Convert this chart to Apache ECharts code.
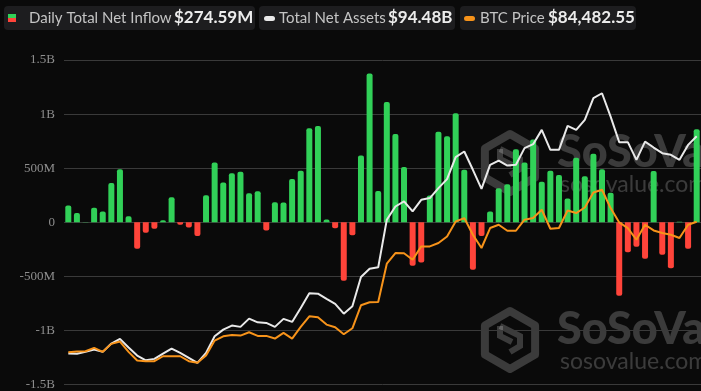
<!DOCTYPE html>
<html><head><meta charset="utf-8">
<script src="https://cdn.jsdelivr.net/npm/echarts@6.0.0/dist/echarts.min.js"></script>
<style>html,body{margin:0;padding:0;background:#0a0a0a;}#c{width:701px;height:391px;}</style>
</head><body><div id="c"></div>
<script>
const categories = ['1','2','3','4','5','6','7','8','9','10','11','12','13','14','15','16','17','18','19','20',
  '21','22','23','24','25','26','27','28','29','30','31','32','33','34','35','36','37','38','39','40',
  '41','42','43','44','45','46','47','48','49','50','51','52','53','54','55','56','57','58','59','60',
  '61','62','63','64','65','66','67','68','69','70','71','72','73','74'];

// Daily total net inflow, millions USD
const netInflowM = [154,86,3,133,99,362,491,56,-244,-96,-59,19,232,-22,-49,-127,250,553,368,454,
  467,269,287,-77,185,182,399,476,868,890,25,-56,-541,-120,618,1375,290,1112,816,510,
  -402,-371,247,837,794,1007,485,-439,-127,99,315,352,674,553,766,374,476,436,219,596,
  426,633,491,272,-680,-278,-226,-337,473,-300,-426,4,-244,860];

// Total net assets, billions USD
const netAssetsB = [61.67,61.63,61.93,62.28,61.93,63.18,63.89,62.58,61.37,60.66,60.87,61.67,62.43,61.78,61.03,60.27,61.78,64.28,65.29,65.90,
  65.70,66.95,66.39,66.30,65.70,66.91,66.45,68.56,70.77,70.72,69.92,69.17,67.70,68.81,73.24,74.49,74.69,81.88,83.88,84.64,
  83.13,84.89,85.15,86.66,88.01,91.33,92.18,89.42,86.55,90.17,90.82,90.06,90.17,92.69,93.29,95.45,92.43,92.43,96.05,95.45,
  96.95,100.23,100.98,97.45,93.59,93.59,90.92,93.68,92.78,91.93,91.68,90.92,93.18,94.48];

// BTC price, USD
const btcPrice = [51780,51955,52030,52880,51880,53880,54460,51880,49700,49530,49530,50780,50780,50780,49530,49130,50950,54710,55780,56080,
  55960,56780,55880,55880,55210,56630,55210,58130,60790,60540,58710,58030,56280,57780,63540,64290,64390,73970,76640,76600,
  74970,78300,78300,79150,80800,84550,85400,81220,77900,82900,83720,82220,82220,84980,85400,87480,82720,82900,87300,86650,
  88050,91800,92480,87900,84300,82900,79970,83720,82300,81650,81220,80400,83720,84482.55];

const yTickLabels = ['-1.5B','-1B','-500M','0','500M','1B','1.5B'];
const legendNames = ['Daily Total Net Inflow','Total Net Assets','BTC Price'];
const legendValues = ['$274.59M','$94.48B','$84,482.55'];

const GREEN = '#31d158', RED = '#ff443a', WHITE = '#e9e9e9', ORANGE = '#f7931a';
const chart = echarts.init(document.getElementById('c'), null, {renderer:'canvas'});

const barData = netInflowM.map(v => ({
  value: v,
  itemStyle: { color: v >= 0 ? GREEN : RED, borderRadius: v >= 0 ? [2,2,0,0] : [0,0,2,2] }
}));

function hexPoints(cx, cy, r) {
  const pts = [];
  for (let k = 0; k < 6; k++) {
    const a = Math.PI / 180 * (-90 + 60 * k);
    pts.push([cx + r * Math.cos(a), cy + r * Math.sin(a)]);
  }
  return pts;
}
function watermark(cy) {
  const wm = 'rgba(255,255,255,0.2)';
  return [
    { type:'polygon', z:0, shape:{points:hexPoints(510, cy, 29)}, style:{fill:'none', stroke:wm, lineWidth:8, lineJoin:'round'} },
    { type:'polyline', z:0, shape:{points:[[500,cy-14],[520,cy-4],[520,cy+6],[510,cy+12]]}, style:{fill:'none', stroke:wm, lineWidth:6} },
    { type:'polyline', z:0, shape:{points:[[500,cy-14],[500,cy-4],[512,cy+2]]}, style:{fill:'none', stroke:wm, lineWidth:6} },
    { type:'text', z:0, x:557, y:cy-11, style:{text:'SoSoValue', fill:wm, font:'900 45px "Lato","Noto Sans",sans-serif', verticalAlign:'middle'} },
    { type:'text', z:0, x:560, y:cy+22, style:{text:'sosovalue.com', fill:wm, font:'23px "Lato","Noto Sans",sans-serif', verticalAlign:'middle'} }
  ];
}
function legendBox(x, w, iconEls, labelX, label, valueX, value) {
  return [
    { type:'rect', z:10, shape:{x:x, y:6, width:w, height:24, r:4}, style:{fill:'#1d1d1f'} },
    ...iconEls,
    { type:'text', z:11, x:labelX, y:18.5, style:{text:label, fill:'#c4c4c4', font:'15px "Lato",sans-serif', verticalAlign:'middle'} },
    { type:'text', z:11, x:valueX, y:18, style:{text:value, fill:'#ececec', font:'bold 17px "Lato",sans-serif', verticalAlign:'middle'} }
  ];
}

const graphics = [
  ...watermark(163),
  ...watermark(340),
  ...legendBox(4, 251, [
      { type:'rect', z:11, shape:{x:8, y:14, width:8, height:4}, style:{fill:GREEN} },
      { type:'rect', z:11, shape:{x:8, y:18, width:8, height:4}, style:{fill:RED} }
    ], 29, legendNames[0], 174, legendValues[0]),
  ...legendBox(259, 196, [
      { type:'rect', z:11, shape:{x:264, y:16, width:11, height:5, r:2.5}, style:{fill:WHITE} }
    ], 279, legendNames[1], 388, legendValues[1]),
  ...legendBox(460, 176, [
      { type:'rect', z:11, shape:{x:464, y:16, width:11, height:5, r:2.5}, style:{fill:ORANGE} }
    ], 480, legendNames[2], 548, legendValues[2])
];

chart.setOption({
  backgroundColor: '#0a0a0a',
  animation: false,
  grid: { left: 64, right: -4.3, top: 60, bottom: 6, containLabel: false },
  xAxis: { type:'category', data: categories, show: false, boundaryGap: true },
  yAxis: [
    { type:'value', min:-1500, max:1500, interval:500,
      axisLine:{show:false}, axisTick:{show:false},
      axisLabel:{ margin:9, color:'#8e8e8e', fontFamily:'"Liberation Serif", serif', fontSize:13,
        formatter: v => yTickLabels[Math.round((v + 1500) / 500)] },
      splitLine:{ lineStyle:{ color:'#3a3a3a', width:1 } } },
    { type:'value', min:57, max:106, show:false, splitLine:{show:false} },
    { type:'value', min:43700, max:125000, show:false, splitLine:{show:false} }
  ],
  graphic: graphics,
  series: [
    { name: legendNames[0], type:'bar', data: barData, barWidth: 6, yAxisIndex:0, z:3 },
    { name: legendNames[1], type:'line', data: netAssetsB, yAxisIndex:1, symbol:'none', z:4,
      lineStyle:{ color:WHITE, width:2 }, itemStyle:{color:WHITE} },
    { name: legendNames[2], type:'line', data: btcPrice, yAxisIndex:2, symbol:'none', z:5,
      lineStyle:{ color:ORANGE, width:2 }, itemStyle:{color:ORANGE} }
  ]
});
</script></body></html>
